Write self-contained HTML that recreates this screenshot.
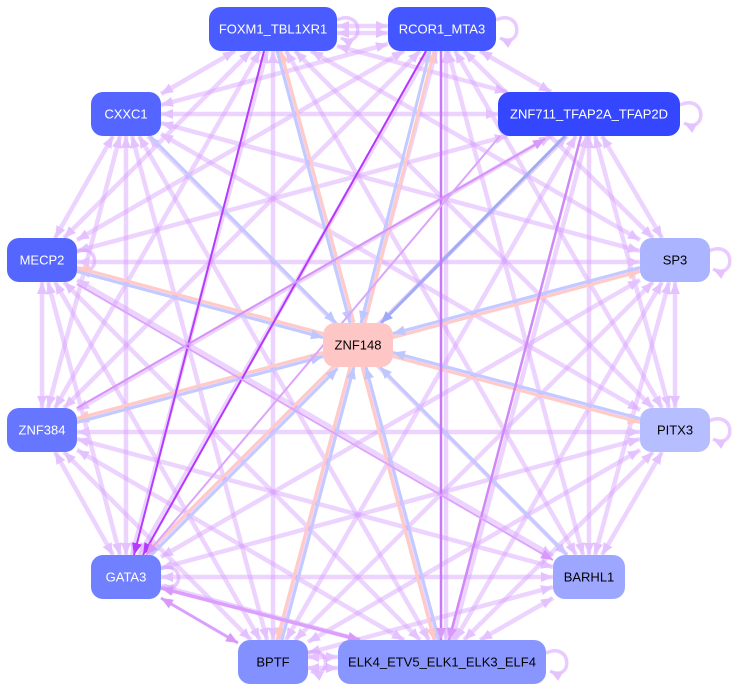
<!DOCTYPE html>
<html>
<head>
<meta charset="utf-8">
<style>
html, body { margin: 0; padding: 0; background: #ffffff; }
svg { display: block; }
text { font-family: "Liberation Sans", Arial, sans-serif; font-size: 13px; }
</style>
</head>
<body>
<svg width="740" height="692" viewBox="0 0 740 692" xmlns="http://www.w3.org/2000/svg">
<defs>
<marker id="lp" viewBox="0 0 12 10" refX="12" refY="5" markerWidth="12" markerHeight="10" markerUnits="userSpaceOnUse" orient="auto-start-reverse"><path d="M0,0 L12,5 L0,10 z" fill="#e4c2ff"/></marker>
<marker id="pk" viewBox="0 0 12 10" refX="12" refY="5" markerWidth="12" markerHeight="10" markerUnits="userSpaceOnUse" orient="auto-start-reverse"><path d="M0,0 L12,5 L0,10 z" fill="#ffc8c4"/></marker>
<marker id="bl" viewBox="0 0 12 10" refX="12" refY="5" markerWidth="12" markerHeight="10" markerUnits="userSpaceOnUse" orient="auto-start-reverse"><path d="M0,0 L12,5 L0,10 z" fill="#bfc7ff"/></marker>
<marker id="db" viewBox="0 0 12 10" refX="12" refY="5" markerWidth="12" markerHeight="10" markerUnits="userSpaceOnUse" orient="auto-start-reverse"><path d="M0,0 L12,5 L0,10 z" fill="#9eaaf6"/></marker>
<marker id="dp" viewBox="0 0 12 10" refX="12" refY="5" markerWidth="12" markerHeight="10" markerUnits="userSpaceOnUse" orient="auto-start-reverse"><path d="M0,0 L12,5 L0,10 z" fill="#b53cff"/></marker>
<marker id="mp" viewBox="0 0 12 10" refX="12" refY="5" markerWidth="12" markerHeight="10" markerUnits="userSpaceOnUse" orient="auto-start-reverse"><path d="M0,0 L12,5 L0,10 z" fill="#d898fc"/></marker>
</defs>
<g stroke="rgb(215,160,255)" stroke-opacity="0.45" stroke-width="4.5" fill="none" marker-start="url(#lp)" marker-end="url(#lp)">
<line x1="337" y1="26" x2="388" y2="26"/>
<line x1="337" y1="33" x2="388" y2="33"/>
<line x1="235" y1="51" x2="161" y2="94"/>
<line x1="337" y1="46" x2="507" y2="92"/>
<line x1="251" y1="51" x2="64" y2="238"/>
<line x1="311" y1="51" x2="640" y2="240"/>
<line x1="260" y1="51" x2="55" y2="408"/>
<line x1="295" y1="51" x2="653" y2="408"/>
<line x1="267" y1="51" x2="132" y2="555"/>
<line x1="286" y1="51" x2="576" y2="555"/>
<line x1="273" y1="51" x2="273" y2="640"/>
<line x1="279" y1="51" x2="436" y2="640"/>
<line x1="388" y1="44" x2="161" y2="105"/>
<line x1="480" y1="51" x2="551" y2="92"/>
<line x1="404" y1="51" x2="77" y2="240"/>
<line x1="464" y1="51" x2="653" y2="238"/>
<line x1="420" y1="51" x2="64" y2="408"/>
<line x1="455" y1="51" x2="662" y2="408"/>
<line x1="429" y1="51" x2="139" y2="555"/>
<line x1="448" y1="51" x2="583" y2="555"/>
<line x1="436" y1="51" x2="279" y2="640"/>
<line x1="446" y1="51" x2="446" y2="640"/>
<line x1="161" y1="114" x2="498" y2="114"/>
<line x1="113" y1="136" x2="55" y2="238"/>
<line x1="161" y1="123" x2="640" y2="251"/>
<line x1="120" y1="136" x2="48" y2="408"/>
<line x1="161" y1="134" x2="640" y2="410"/>
<line x1="126" y1="136" x2="126" y2="555"/>
<line x1="148" y1="136" x2="567" y2="555"/>
<line x1="132" y1="136" x2="267" y2="640"/>
<line x1="139" y1="136" x2="429" y2="640"/>
<line x1="507" y1="136" x2="77" y2="251"/>
<line x1="602" y1="136" x2="662" y2="238"/>
<line x1="551" y1="136" x2="77" y2="410"/>
<line x1="595" y1="136" x2="669" y2="408"/>
<line x1="567" y1="136" x2="148" y2="555"/>
<line x1="589" y1="136" x2="589" y2="555"/>
<line x1="576" y1="136" x2="286" y2="640"/>
<line x1="587" y1="136" x2="452" y2="640"/>
<line x1="77" y1="262" x2="640" y2="262"/>
<line x1="42" y1="282" x2="42" y2="408"/>
<line x1="77" y1="269" x2="640" y2="421"/>
<line x1="48" y1="282" x2="120" y2="555"/>
<line x1="77" y1="280" x2="553" y2="556"/>
<line x1="55" y1="282" x2="260" y2="640"/>
<line x1="64" y1="282" x2="420" y2="640"/>
<line x1="640" y1="269" x2="77" y2="421"/>
<line x1="675" y1="282" x2="675" y2="408"/>
<line x1="640" y1="280" x2="161" y2="557"/>
<line x1="669" y1="282" x2="595" y2="555"/>
<line x1="653" y1="282" x2="295" y2="640"/>
<line x1="662" y1="282" x2="455" y2="640"/>
<line x1="77" y1="432" x2="640" y2="432"/>
<line x1="55" y1="452" x2="113" y2="555"/>
<line x1="77" y1="439" x2="553" y2="567"/>
<line x1="64" y1="452" x2="251" y2="640"/>
<line x1="77" y1="450" x2="404" y2="640"/>
<line x1="640" y1="439" x2="161" y2="568"/>
<line x1="662" y1="452" x2="602" y2="555"/>
<line x1="640" y1="450" x2="308" y2="642"/>
<line x1="653" y1="452" x2="464" y2="640"/>
<line x1="161" y1="577" x2="553" y2="577"/>
<line x1="161" y1="586" x2="360" y2="640"/>
<line x1="553" y1="587" x2="308" y2="653"/>
<line x1="553" y1="598" x2="480" y2="640"/>
<line x1="307" y1="657" x2="338" y2="657"/>
<line x1="307" y1="668" x2="338" y2="668"/>
</g>
<g stroke="rgb(215,160,255)" stroke-opacity="0.55" stroke-width="3.5" fill="none" marker-end="url(#lp)">
<path d="M337,20 C364,8 364,50 341,38"/>
<path d="M496,20 C523,8 523,50 500,38"/>
<path d="M680,105 C707,93 707,135 684,123"/>
<path d="M709,251 C736,239 736,281 713,269"/>
<path d="M709,421 C736,409 736,451 713,439"/>
<path d="M76,252 C100,242 100,278 80,268"/>
<path d="M160,569 C184,559 184,595 164,585"/>
<path d="M307,653 C331,643 331,681 311,671"/>
<path d="M546,653 C573,641 573,683 550,671"/>
</g>
<g fill="none" stroke-width="3">
<line x1="354" y1="322.5" x2="281" y2="51" stroke="#ffcbc7" marker-end="url(#pk)"/>
<line x1="277" y1="51" x2="350" y2="323" stroke="#c2caff" marker-end="url(#bl)"/>
<line x1="365" y1="323" x2="434" y2="51" stroke="#ffcbc7" marker-end="url(#pk)"/>
<line x1="430" y1="51" x2="361" y2="323" stroke="#c2caff" marker-end="url(#bl)"/>
<line x1="150" y1="136" x2="336" y2="323" stroke="#c2caff" marker-end="url(#bl)"/>
<line x1="565" y1="136" x2="381" y2="323" stroke="#a0acf6" marker-end="url(#db)"/>
<line x1="323" y1="333.5" x2="77" y2="267.5" stroke="#ffcbc7" marker-end="url(#pk)"/>
<line x1="77" y1="271.5" x2="323" y2="337.5" stroke="#c2caff" marker-end="url(#bl)"/>
<line x1="393" y1="337.5" x2="640" y2="271.5" stroke="#ffcbc7" marker-end="url(#pk)"/>
<line x1="640" y1="267.5" x2="393" y2="333.5" stroke="#c2caff" marker-end="url(#bl)"/>
<line x1="323" y1="352.5" x2="77" y2="418.5" stroke="#ffcbc7" marker-end="url(#pk)"/>
<line x1="77" y1="422.5" x2="323" y2="356.5" stroke="#c2caff" marker-end="url(#bl)"/>
<line x1="393" y1="356.5" x2="640" y2="422.5" stroke="#ffcbc7" marker-end="url(#pk)"/>
<line x1="640" y1="418.5" x2="393" y2="352.5" stroke="#c2caff" marker-end="url(#bl)"/>
<line x1="334.5" y1="365.5" x2="146.5" y2="553.5" stroke="#ffcbc7" marker-end="url(#pk)"/>
<line x1="150" y1="556.5" x2="337.5" y2="368.5" stroke="#c2caff" marker-end="url(#bl)"/>
<line x1="567" y1="555" x2="380" y2="367" stroke="#c2caff" marker-end="url(#bl)"/>
<line x1="350" y1="367" x2="277" y2="640" stroke="#ffcbc7" marker-end="url(#pk)"/>
<line x1="282" y1="640" x2="354" y2="367" stroke="#c2caff" marker-end="url(#bl)"/>
<line x1="362" y1="367" x2="434" y2="640" stroke="#ffcbc7" marker-end="url(#pk)"/>
<line x1="439" y1="640" x2="366" y2="367" stroke="#c2caff" marker-end="url(#bl)"/>
</g>
<g fill="none">
<line x1="264" y1="51" x2="134" y2="555" stroke="#b43cff" stroke-width="2" marker-end="url(#dp)"/>
<line x1="426" y1="51" x2="143" y2="555" stroke="#b436ff" stroke-width="2" marker-end="url(#dp)"/>
<line x1="441" y1="51" x2="441" y2="640" stroke="#c878f6" stroke-width="2.5" marker-end="url(#mp)"/>
<line x1="581" y1="136" x2="449" y2="640" stroke="#d088f8" stroke-width="2.5" marker-end="url(#mp)"/>
<line x1="77" y1="408" x2="545" y2="139" stroke="#d692fa" stroke-width="2" marker-end="url(#mp)"/>
<line x1="500" y1="136" x2="146" y2="555" stroke="#dca4fb" stroke-width="2" marker-end="url(#mp)"/>
<line x1="360" y1="640" x2="161" y2="588" stroke="#dc9ffe" stroke-width="3.5" marker-start="url(#mp)" marker-end="url(#mp)"/>
<line x1="161" y1="598" x2="238" y2="643" stroke="#dc9ffe" stroke-width="3" marker-start="url(#mp)" marker-end="url(#mp)"/>
<line x1="77" y1="284" x2="553" y2="560" stroke="#dca4fb" stroke-width="2" marker-end="url(#mp)"/>
</g>
<g>
<rect x="209" y="7" width="128" height="44" rx="12" fill="#4a5cff"/>
<text x="273" y="33.5" text-anchor="middle" fill="#ffffff">FOXM1_TBL1XR1</text>
<rect x="388" y="7" width="108" height="44" rx="12" fill="#4456ff"/>
<text x="442" y="33.5" text-anchor="middle" fill="#ffffff">RCOR1_MTA3</text>
<rect x="91" y="92" width="70" height="44" rx="12" fill="#5466ff"/>
<text x="126" y="118.5" text-anchor="middle" fill="#ffffff">CXXC1</text>
<rect x="498" y="92" width="182" height="44" rx="12" fill="#3447ff"/>
<text x="589" y="118.5" text-anchor="middle" fill="#ffffff">ZNF711_TFAP2A_TFAP2D</text>
<rect x="7" y="238" width="70" height="44" rx="12" fill="#5566ff"/>
<text x="42" y="264.5" text-anchor="middle" fill="#ffffff">MECP2</text>
<rect x="640" y="238" width="70" height="44" rx="12" fill="#abb4ff"/>
<text x="675" y="264.5" text-anchor="middle" fill="#000000">SP3</text>
<rect x="323" y="323" width="70" height="44" rx="12" fill="#ffc6c6"/>
<text x="358" y="349.5" text-anchor="middle" fill="#000000">ZNF148</text>
<rect x="7" y="408" width="70" height="44" rx="12" fill="#6676ff"/>
<text x="42" y="434.5" text-anchor="middle" fill="#ffffff">ZNF384</text>
<rect x="640" y="408" width="70" height="44" rx="12" fill="#b7beff"/>
<text x="675" y="434.5" text-anchor="middle" fill="#000000">PITX3</text>
<rect x="91" y="555" width="70" height="44" rx="12" fill="#7080ff"/>
<text x="126" y="581.5" text-anchor="middle" fill="#ffffff">GATA3</text>
<rect x="553" y="555" width="72" height="44" rx="12" fill="#9da7ff"/>
<text x="589" y="581.5" text-anchor="middle" fill="#000000">BARHL1</text>
<rect x="238" y="640" width="70" height="44" rx="12" fill="#8390ff"/>
<text x="273" y="666.5" text-anchor="middle" fill="#000000">BPTF</text>
<rect x="338" y="640" width="208" height="44" rx="12" fill="#8a96ff"/>
<text x="442" y="666.5" text-anchor="middle" fill="#000000">ELK4_ETV5_ELK1_ELK3_ELF4</text>
</g>
</svg>
</body>
</html>
